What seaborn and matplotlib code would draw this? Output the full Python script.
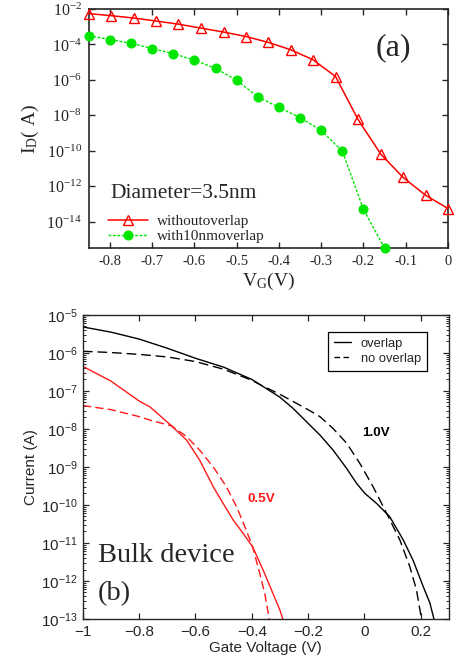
import numpy as np
import pandas as pd
import matplotlib
matplotlib.use("Agg")
import matplotlib.pyplot as plt
from matplotlib.lines import Line2D
from matplotlib.ticker import LogLocator, NullFormatter, FixedLocator, NullLocator
import seaborn as sns

# ---------------- data: panel (a) ----------------
vg_without = [-0.85, -0.797, -0.744, -0.691, -0.638, -0.584, -0.531, -0.478, -0.425,
              -0.372, -0.319, -0.266, -0.213, -0.159, -0.106, -0.053, 0.0]
id_without = [5.5e-3, 4.2e-3, 3.1e-3, 2.1e-3, 1.4e-3, 8.3e-4, 5.0e-4, 2.8e-4, 1.3e-4,
              5.0e-5, 1.35e-5, 1.55e-6, 5.9e-9, 6.5e-11, 3.1e-12, 3.1e-13, 5.5e-14]
vg_with = [-0.85, -0.8, -0.75, -0.7, -0.65, -0.6, -0.55, -0.5, -0.45, -0.4, -0.35,
           -0.3, -0.25, -0.2, -0.15]
id_with = [3.1e-4, 1.9e-4, 1.15e-4, 5.9e-5, 3.0e-5, 1.3e-5, 4.4e-6, 9.5e-7, 1.1e-7,
           2.8e-8, 7.4e-9, 1.4e-9, 9.5e-11, 5.0e-14, 3.2e-16]
a_xticks = [-0.8, -0.7, -0.6, -0.5, -0.4, -0.3, -0.2, -0.1, 0.0]
a_xticklabels = ["-0.8", "-0.7", "-0.6", "-0.5", "-0.4", "-0.3", "-0.2", "-0.1", "0"]
a_yticks = [1e-2, 1e-4, 1e-6, 1e-8, 1e-10, 1e-12, 1e-14]
a_yticklabels = [r"$\mathrm{10^{-2}}$", r"$\mathrm{10^{-4}}$", r"$\mathrm{10^{-6}}$",
                 r"$\mathrm{10^{-8}}$", r"$\mathrm{10^{-10}}$", r"$\mathrm{10^{-12}}$",
                 r"$\mathrm{10^{-14}}$"]

# ---------------- data: panel (b) ----------------
vg_ov_10 = [-1.0, -0.9, -0.8, -0.7, -0.6, -0.5, -0.4, -0.37, -0.3, -0.254, -0.2,
            -0.158, -0.111, -0.063, -0.028, 0.002, 0.043, 0.09, 0.138, 0.173, 0.209,
            0.233, 0.247]
i_ov_10 = [4.8e-6, 3.5e-6, 2.3e-6, 1.32e-6, 7.2e-7, 4.2e-7, 2.0e-7, 1.45e-7, 6.8e-8,
           3.5e-8, 1.4e-8, 6.9e-9, 2.75e-9, 9.1e-10, 3.7e-10, 2.0e-10, 1.1e-10,
           4.9e-11, 1.2e-11, 3.5e-12, 7.1e-13, 2.6e-13, 1.0e-13]
vg_no_10 = [-1.0, -0.9, -0.8, -0.7, -0.6, -0.5, -0.4, -0.37, -0.3, -0.2, -0.158,
            -0.111, -0.063, -0.016, 0.031, 0.079, 0.126, 0.162, 0.185, 0.203]
i_no_10 = [1.1e-6, 1.02e-6, 9.1e-7, 7.8e-7, 5.9e-7, 3.7e-7, 1.9e-7, 1.45e-7, 8.1e-8,
           3.2e-8, 2.1e-8, 1.02e-8, 4.2e-9, 1.23e-9, 3.0e-10, 6.0e-11, 1.2e-11,
           2.3e-12, 5.8e-13, 1.0e-13]
vg_ov_05 = [-1.0, -0.9, -0.8, -0.762, -0.685, -0.632, -0.585, -0.537, -0.502, -0.466,
            -0.431, -0.397, -0.36, -0.33, -0.3, -0.29]
i_ov_05 = [4.4e-7, 1.8e-7, 5.4e-8, 3.8e-8, 1.2e-8, 5.1e-9, 1.5e-9, 3.0e-10, 1.1e-10,
           4.0e-11, 1.8e-11, 7.9e-12, 1.95e-12, 5.8e-13, 1.7e-13, 1.0e-13]
vg_no_05 = [-1.0, -0.9, -0.8, -0.762, -0.685, -0.632, -0.585, -0.537, -0.49, -0.454,
            -0.425, -0.397, -0.372, -0.354, -0.338]
i_no_05 = [4.1e-8, 3.2e-8, 2.1e-8, 1.7e-8, 1.2e-8, 6.3e-9, 2.75e-9, 1.0e-9, 3.0e-10,
           8.9e-11, 2.7e-11, 7.9e-12, 1.6e-12, 4.7e-13, 1.0e-13]
b_xticks = [-1.0, -0.8, -0.6, -0.4, -0.2, 0.0, 0.2]
b_xticklabels = ["\u22121", "\u22120.8", "\u22120.6", "\u22120.4", "\u22120.2", "0", "0.2"]
b_yticks = [1e-5, 1e-6, 1e-7, 1e-8, 1e-9, 1e-10, 1e-11, 1e-12, 1e-13]
b_yticklabels = [r"$\mathsf{10^{-%d}}$" % k for k in range(5, 14)]

# ---------------- style ----------------
sns.set_style("ticks")
plt.rcParams["font.family"] = ["Liberation Sans", "DejaVu Sans"]
plt.rcParams["mathtext.fontset"] = "custom"
plt.rcParams["mathtext.rm"] = "Liberation Serif"
plt.rcParams["mathtext.it"] = "Liberation Serif:italic"
plt.rcParams["mathtext.sf"] = "Liberation Sans"
plt.rcParams["axes.unicode_minus"] = False

SERIF = "Liberation Serif"
SANS = "Liberation Sans"

fig = plt.figure(figsize=(4.58, 6.67), dpi=100)

# ================= panel (a) =================
ax1 = fig.add_axes([0.194, 0.628, 0.784, 0.3585])
df_a1 = pd.DataFrame({"vg": vg_without, "id": id_without})
df_a2 = pd.DataFrame({"vg": vg_with, "id": id_with})
sns.lineplot(data=df_a1, x="vg", y="id", ax=ax1, color="#ff0000", linewidth=1.1,
             marker="^", markersize=7, markerfacecolor="none", markeredgecolor="#ff0000",
             markeredgewidth=1.0, label="withoutoverlap", estimator=None, clip_on=False,
             zorder=3)
sns.lineplot(data=df_a2, x="vg", y="id", ax=ax1, color="#00e600", linewidth=1.0,
             linestyle=(0, (2.0, 1.2)), marker="o", markersize=6.5,
             markerfacecolor="#00e600", markeredgecolor="#00e600",
             label="with10nmoverlap", estimator=None, clip_on=False, zorder=3)
ax1.set_yscale("log")
ax1.set_xlim(-0.85, 0.0)
ax1.set_ylim(3.2e-16, 1e-2)
ax1.yaxis.set_major_locator(FixedLocator(a_yticks))
ax1.yaxis.set_minor_locator(NullLocator())
ax1.set_yticks(a_yticks)
ax1.set_yticklabels(a_yticklabels, fontsize=11.5)
ax1.set_xticks(a_xticks)
ax1.set_xticklabels(a_xticklabels, fontfamily=SERIF, fontsize=10.5)
ax1.tick_params(direction="in", top=True, right=True, length=4, width=1.0, pad=5)
for s in ax1.spines.values():
    s.set_linewidth(1.2)
ax1.set_xlabel(r"$\mathrm{V_G(V)}$", fontsize=14, labelpad=2)
ax1.set_ylabel(r"$\mathrm{I_D(\ A)}$", fontsize=14, labelpad=4)
ax1.text(0.80, 0.84, "(a)", transform=ax1.transAxes, fontfamily=SERIF, fontsize=23,
         va="center", ha="left")
ax1.text(0.061, 0.23, "Diameter=3.5nm", transform=ax1.transAxes, fontfamily=SERIF,
         fontsize=15.5, va="center", ha="left")
ax1.legend(loc="center left", bbox_to_anchor=(0.053, 0.08), frameon=False,
           prop={"family": SERIF, "size": 11}, handlelength=2.6, handletextpad=0.6,
           borderpad=0, borderaxespad=0, labelspacing=0.1)

# ================= panel (b) =================
ax2 = fig.add_axes([0.181, 0.072, 0.799, 0.456])
curves = [
    (vg_ov_10, i_ov_10, "black", "-"),
    (vg_no_10, i_no_10, "black", (0, (7, 3.5))),
    (vg_ov_05, i_ov_05, "#ff1a1a", "-"),
    (vg_no_05, i_no_05, "#ff1a1a", (0, (6, 3))),
]
for xs, ys, col, ls in curves:
    d = pd.DataFrame({"vg": xs, "i": ys})
    sns.lineplot(data=d, x="vg", y="i", ax=ax2, color=col, linestyle=ls, linewidth=1.0,
                 estimator=None, legend=False)
ax2.set_yscale("log")
ax2.set_xlim(-1.0, 0.3)
ax2.set_ylim(1e-13, 1e-5)
ax2.set_yticks(b_yticks)
ax2.set_yticklabels(b_yticklabels, fontsize=11)
ax2.yaxis.set_minor_locator(LogLocator(base=10, subs=np.arange(2, 10), numticks=20))
ax2.yaxis.set_minor_formatter(NullFormatter())
ax2.set_xticks(b_xticks)
ax2.set_xticklabels(b_xticklabels, fontfamily=SANS, fontsize=11)
ax2.tick_params(which="major", direction="in", top=True, right=True, length=4,
                width=0.9, pad=4)
ax2.tick_params(which="minor", direction="in", left=True, right=True, length=2.2,
                width=0.7)
for s in ax2.spines.values():
    s.set_linewidth(1.0)
ax2.set_xlabel("Gate Voltage (V)", fontfamily=SANS, fontsize=11, labelpad=2)
ax2.set_ylabel("Current (A)", fontfamily=SANS, fontsize=11, labelpad=2)
ax2.text(0.762, 0.612, "1.0V", transform=ax2.transAxes, fontfamily=SANS, fontsize=9.7,
         fontweight="bold", color="black", va="center", ha="left")
ax2.text(0.451, 0.395, "0.5V", transform=ax2.transAxes, fontfamily=SANS, fontsize=9.7,
         fontweight="bold", color="#ff1a1a", va="center", ha="left")
ax2.text(0.041, 0.21, "Bulk device", transform=ax2.transAxes, fontfamily=SERIF,
         fontsize=20.5, va="center", ha="left")
ax2.text(0.041, 0.085, "(b)", transform=ax2.transAxes, fontfamily=SERIF,
         fontsize=20.5, va="center", ha="left")
handles = [Line2D([], [], color="black", linestyle="-", linewidth=1.0),
           Line2D([], [], color="black", linestyle=(0, (4, 2.5)), linewidth=1.0)]
leg = ax2.legend(handles, ["overlap", "no overlap"], loc="upper right",
                 bbox_to_anchor=(0.940, 0.944), borderaxespad=0, fancybox=False,
                 framealpha=1, edgecolor="black", prop={"family": SANS, "size": 9.3},
                 handlelength=1.3, handletextpad=0.8, borderpad=0.45,
                 labelspacing=0.25)
leg.get_frame().set_linewidth(0.9)

fig.savefig("out.png", dpi=100)
